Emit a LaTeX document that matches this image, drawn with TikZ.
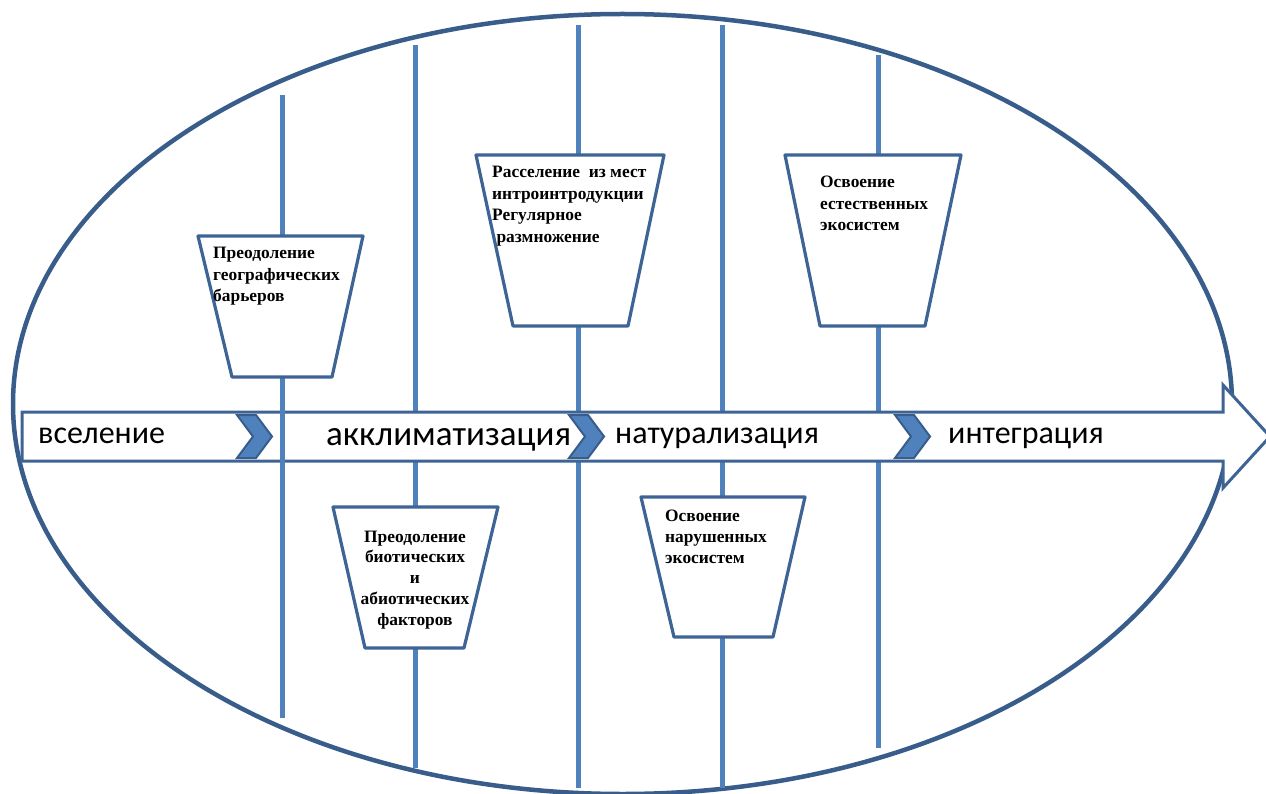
\documentclass[tikz,border=0pt]{standalone}
\usepackage{fontspec}
\setmainfont{Liberation Serif}
\newfontfamily\calib{Carlito}
\definecolor{lineblue}{HTML}{4F81BD}
\definecolor{darkblue}{HTML}{385D8A}
\definecolor{arrowblue}{HTML}{3E6496}
\newcommand{\trapfont}{\bfseries\fontsize{17.4}{21.5}\selectfont}
\newcommand{\arrfont}{\calib\fontsize{32}{38}\selectfont}
\begin{document}
\begin{tikzpicture}[x=1pt,y=-1pt,
  ellipsest/.style={draw=darkblue,line width=4.5pt},
  vline/.style={draw=lineblue,line width=5pt},
  arrowst/.style={draw=arrowblue,fill=white,line width=3pt,line join=miter},
  trapst/.style={draw=arrowblue,fill=white,line width=3.2pt,line join=round},
  chevst/.style={draw=darkblue,fill=lineblue,line width=2pt,line join=miter},
  lbl/.style={inner sep=0pt,font=\arrfont,anchor=base west},
  ttext/.style={inner sep=0pt,font=\trapfont,anchor=base west},
  chevron/.pic={\filldraw[chevst] (0,-21.5) -- (19,-21.5) -- (35,0) -- (19,21.5) -- (0,21.5) -- (16,0) -- cycle;}
]
\useasboundingbox (0,0) rectangle (1266,794);
\clip (0,0) rectangle (1266,794);
\fill[white] (0,0) rectangle (1266,794);
% ellipse
\draw[ellipsest] (622.5,404) ellipse [x radius=609.5pt, y radius=390pt];
% vertical lines behind the arrow
\draw[vline] (415,45) -- (415,768);
\draw[vline] (578,25) -- (578,788);
\draw[vline] (722,25) -- (722,788);
\draw[vline] (878,55) -- (878,748);
% big arrow
\filldraw[arrowst] (22,412) -- (1223,412) -- (1223,385) -- (1270,436.5) -- (1223,488) -- (1223,461) -- (22,461) -- cycle;
% line crossing over the arrow
\draw[vline] (282,95) -- (282,718);
% chevrons
\pic at (237,436.5) {chevron};
\pic at (569,436.5) {chevron};
\pic at (895,436.5) {chevron};
% arrow labels
\node[lbl] (l1) at (38,443) {вселение};
\node[lbl,font=\calib\fontsize{35}{42}\selectfont] (l2) at (326,445) {акклиматизация};
\node[lbl] (l3) at (615,443) {натурализация};
\node[lbl] (l4) at (948,443) {интеграция};
% trapezoids
\filldraw[trapst] (198,236) -- (363,236) -- (332,377) -- (232,377) -- cycle;
\filldraw[trapst] (476,155) -- (664,155) -- (628,326) -- (513,326) -- cycle;
\filldraw[trapst] (785,155) -- (961,155) -- (925,326) -- (820,326) -- cycle;
\filldraw[trapst] (333,507) -- (498,507) -- (464,648) -- (365,648) -- cycle;
\filldraw[trapst] (641,497) -- (805,497) -- (773,637) -- (674,637) -- cycle;
% trapezoid texts
\node[ttext] (t1) at (213,259) {\vtop{\baselineskip=21.5pt\halign{#\hfil\cr Преодоление\cr географических\cr барьеров\cr}}};
\node[ttext] (t2) at (492,178) {\vtop{\baselineskip=21.5pt\halign{#\hfil\cr Расселение\ \ из мест\cr интроинтродукции\cr Регулярное\cr \ размножение\cr}}};
\node[ttext] (t3) at (820,188) {\vtop{\baselineskip=21.5pt\halign{#\hfil\cr Освоение\cr естественных\cr экосистем\cr}}};
\node[ttext,anchor=base] (t4) at (415,542) {\vtop{\baselineskip=20.8pt\halign{\hfil#\hfil\cr Преодоление\cr биотических\cr и\cr абиотических\cr факторов\cr}}};
\node[ttext] (t5) at (665,521) {\vtop{\baselineskip=21.2pt\halign{#\hfil\cr Освоение\cr нарушенных\cr экосистем\cr}}};
\end{tikzpicture}
\end{document}
